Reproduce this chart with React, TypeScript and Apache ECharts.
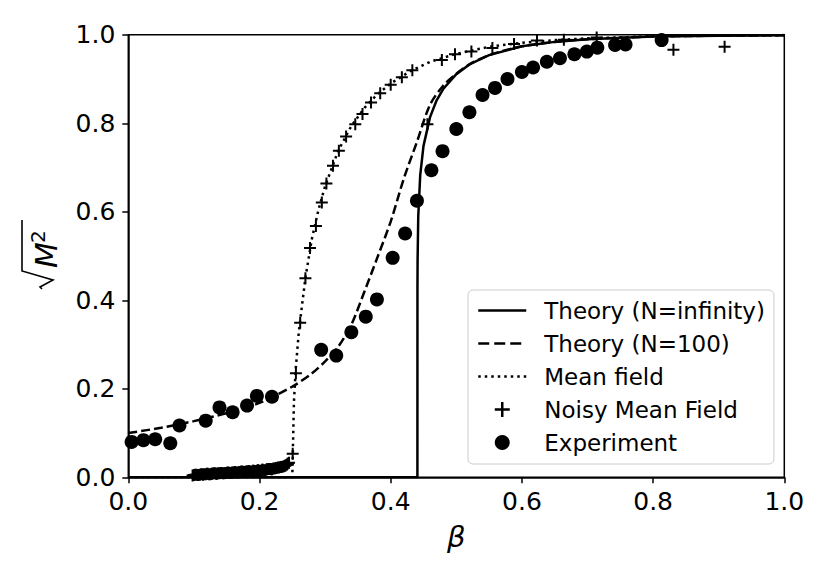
import React, { useEffect, useRef } from "react";
import * as echarts from "echarts";

const theoryInf: [number, number][] = [
  [0, 0], [0.1, 0], [0.2, 0], [0.3, 0], [0.4, 0], [0.4407, 0],
  [0.4408, 0.428], [0.441, 0.491], [0.442, 0.59], [0.445, 0.683], [0.45, 0.749],
  [0.46, 0.814], [0.47, 0.852], [0.48, 0.8775], [0.5, 0.911], [0.52, 0.933],
  [0.55, 0.954], [0.6, 0.974], [0.65, 0.984], [0.7, 0.99], [0.8, 0.996],
  [0.9, 0.998], [1.0, 0.999],
];

const theory100: [number, number][] = [
  [0, 0.1], [0.05, 0.112], [0.1, 0.127], [0.15, 0.145], [0.2, 0.168],
  [0.25, 0.205], [0.28, 0.235], [0.3, 0.262], [0.32, 0.295], [0.34, 0.345],
  [0.36, 0.42], [0.38, 0.498], [0.4, 0.578], [0.42, 0.675], [0.44, 0.758],
  [0.46, 0.842], [0.48, 0.885], [0.5, 0.912], [0.52, 0.933], [0.55, 0.954],
  [0.6, 0.974], [0.65, 0.984], [0.7, 0.99], [0.8, 0.996], [0.9, 0.998], [1.0, 0.999],
];

const meanField: [number, number][] = [
  [0, 0], [0.1, 0], [0.2, 0], [0.25, 0], [0.2525, 0.171], [0.255, 0.24],
  [0.26, 0.33], [0.27, 0.451], [0.28, 0.54], [0.29, 0.605], [0.3, 0.658],
  [0.32, 0.738], [0.34, 0.794], [0.36, 0.835], [0.38, 0.866], [0.4, 0.89],
  [0.43, 0.918], [0.46, 0.939], [0.5, 0.957], [0.55, 0.973], [0.6, 0.982],
  [0.65, 0.988], [0.7, 0.992], [0.8, 0.9966], [0.9, 0.9985], [1.0, 0.9993],
];

const noisyMeanField: [number, number][] = [
  [0.098, 0.004], [0.1, 0.005], [0.102, 0.006], [0.104, 0.006], [0.106, 0.005],
  [0.107, 0.005], [0.109, 0.006], [0.111, 0.007], [0.113, 0.007], [0.114, 0.006],
  [0.116, 0.007], [0.118, 0.007], [0.12, 0.008], [0.121, 0.008], [0.123, 0.007],
  [0.125, 0.007], [0.127, 0.008], [0.128, 0.008], [0.13, 0.009], [0.132, 0.009],
  [0.134, 0.008], [0.135, 0.008], [0.137, 0.009], [0.139, 0.009], [0.141, 0.01],
  [0.142, 0.01], [0.144, 0.009], [0.146, 0.009], [0.148, 0.01], [0.149, 0.01],
  [0.151, 0.011], [0.153, 0.011], [0.155, 0.01], [0.156, 0.01], [0.158, 0.011],
  [0.16, 0.011], [0.162, 0.012], [0.163, 0.012], [0.165, 0.011], [0.167, 0.011],
  [0.169, 0.012], [0.17, 0.012], [0.172, 0.013], [0.174, 0.013], [0.176, 0.012],
  [0.177, 0.012], [0.179, 0.013], [0.181, 0.013], [0.183, 0.014], [0.184, 0.014],
  [0.186, 0.013], [0.188, 0.013], [0.19, 0.015], [0.191, 0.015], [0.193, 0.014],
  [0.195, 0.014], [0.197, 0.016], [0.198, 0.016], [0.2, 0.015], [0.202, 0.015],
  [0.204, 0.017], [0.205, 0.017], [0.207, 0.016], [0.209, 0.016], [0.211, 0.018],
  [0.212, 0.018], [0.214, 0.019], [0.216, 0.019], [0.218, 0.018], [0.219, 0.018],
  [0.221, 0.02], [0.223, 0.02], [0.225, 0.021], [0.226, 0.021], [0.228, 0.022],
  [0.23, 0.022], [0.232, 0.023], [0.233, 0.023], [0.235, 0.024], [0.237, 0.025],
  [0.239, 0.026], [0.24, 0.027], [0.242, 0.029], [0.243, 0.031], [0.245, 0.033],
  [0.2506, 0.053],
  [0.2555, 0.235], [0.262, 0.349], [0.27, 0.45], [0.277, 0.518], [0.286, 0.568],
  [0.295, 0.621], [0.302, 0.664], [0.312, 0.704], [0.321, 0.738], [0.332, 0.77],
  [0.346, 0.798], [0.357, 0.821], [0.37, 0.847], [0.384, 0.868], [0.4, 0.887],
  [0.417, 0.904], [0.433, 0.92], [0.456, 0.798], [0.478, 0.943], [0.498, 0.956],
  [0.523, 0.962], [0.555, 0.97], [0.588, 0.979], [0.623, 0.987], [0.664, 0.989],
  [0.714, 0.994], [0.831, 0.966], [0.909, 0.973],
];

const experiment: [number, number][] = [
  [0.005, 0.08], [0.023, 0.084], [0.041, 0.086], [0.064, 0.077], [0.078, 0.117],
  [0.118, 0.128], [0.139, 0.158], [0.159, 0.147], [0.181, 0.162], [0.196, 0.184],
  [0.219, 0.182], [0.294, 0.288], [0.317, 0.275], [0.34, 0.328], [0.362, 0.363],
  [0.379, 0.402], [0.403, 0.496], [0.422, 0.551], [0.44, 0.625], [0.462, 0.694],
  [0.479, 0.737], [0.5, 0.787], [0.52, 0.825], [0.54, 0.864], [0.559, 0.88],
  [0.578, 0.9], [0.6, 0.916], [0.617, 0.926], [0.638, 0.939], [0.658, 0.947],
  [0.68, 0.956], [0.699, 0.962], [0.715, 0.971], [0.742, 0.977], [0.758, 0.978],
  [0.813, 0.988],
];

const seriesNames = [
  "Theory (N=infinity)",
  "Theory (N=100)",
  "Mean field",
  "Noisy Mean Field",
  "Experiment",
];

const PLUS =
  "path://M5,0 L7,0 L7,5 L12,5 L12,7 L7,7 L7,12 L5,12 L5,7 L0,7 L0,5 L5,5 Z";
const FONT = "DejaVu Sans";

export default function App() {
  const ref = useRef<HTMLDivElement>(null);
  useEffect(() => {
    document.body.style.margin = "0";
    const chart = echarts.init(ref.current!, undefined, { renderer: "svg" });
    const axisCommon = {
      type: "value" as const,
      min: 0,
      max: 1,
      interval: 0.2,
      splitLine: { show: false },
      axisLine: { show: true, lineStyle: { color: "#000", width: 1.5 } },
      axisTick: { show: true, inside: false, length: 6, lineStyle: { color: "#000", width: 1.5 } },
      axisLabel: {
        color: "#000",
        fontSize: 25,
        fontFamily: FONT,
        formatter: (v: number) => v.toFixed(1),
      },
    };
    const hiddenSymbol = { opacity: 0 };
    chart.setOption({
      animation: false,
      backgroundColor: "#fff",
      grid: {
        left: 128.3,
        right: 45.7,
        top: 34.8,
        bottom: 103.7,
        show: true,
        borderColor: "#000",
        borderWidth: 1.5,
        backgroundColor: "transparent",
      },
      xAxis: {
        ...axisCommon,
        axisLabel: { ...axisCommon.axisLabel, margin: 12 },
        name: "β",
        nameLocation: "middle",
        nameGap: 45,
        nameTextStyle: { fontSize: 29, fontStyle: "italic", fontFamily: FONT, color: "#000" },
      },
      yAxis: {
        ...axisCommon,
        axisLabel: { ...axisCommon.axisLabel, margin: 13 },
      },
      legend: {
        data: [
          { name: seriesNames[0], itemStyle: hiddenSymbol, lineStyle: { width: 2.5 } },
          { name: seriesNames[1], itemStyle: hiddenSymbol, lineStyle: { width: 2.5, type: [11, 5] } },
          { name: seriesNames[2], itemStyle: hiddenSymbol, lineStyle: { width: 2.5 } },
          { name: seriesNames[3] },
          { name: seriesNames[4] },
        ],
        orient: "vertical",
        left: 468,
        top: 290,
        align: "left",
        itemWidth: 48,
        itemHeight: 15,
        itemGap: 10,
        padding: [9, 9, 10, 9],
        borderColor: "#cccccc",
        borderWidth: 1,
        borderRadius: 5,
        backgroundColor: "rgba(255,255,255,0.8)",
        lineStyle: { width: 2.5 },
        textStyle: {
          fontSize: 23,
          fontFamily: FONT,
          color: "#000",
          lineHeight: 23,
          padding: [0, 0, 0, 13],
        },
      },
      graphic: [
        {
          type: "group",
          x: 38,
          y: 257,
          rotation: Math.PI / 2,
          children: [
            {
              type: "polyline",
              shape: { points: [[-32, 4], [-30, 2], [-23, 15], [-14, -16], [37, -16]] },
              style: { stroke: "#000", lineWidth: 1.6, fill: "none" },
            },
            {
              type: "text",
              style: {
                text: "M",
                x: -11,
                y: 8.5,
                font: `italic 30px "${FONT}"`,
                fill: "#000",
                align: "left",
                verticalAlign: "middle",
              },
            },
            {
              type: "text",
              style: {
                text: "2",
                x: 14,
                y: 0,
                font: `20px "${FONT}"`,
                fill: "#000",
                align: "left",
                verticalAlign: "middle",
              },
            },
          ],
        },
      ],
      series: [
        {
          name: seriesNames[0],
          type: "line",
          data: theoryInf,
          showSymbol: false,
          symbol: "none",
          lineStyle: { color: "#000", width: 2.5 },
          itemStyle: { color: "#000" },
          z: 2,
        },
        {
          name: seriesNames[1],
          type: "line",
          data: theory100,
          showSymbol: false,
          symbol: "none",
          smooth: 0.3,
          lineStyle: { color: "#000", width: 2.5, type: [9, 4] },
          itemStyle: { color: "#000" },
          z: 2,
        },
        {
          name: seriesNames[2],
          type: "line",
          data: meanField,
          showSymbol: false,
          symbol: "none",
          lineStyle: { color: "#000", width: 2.5, type: [2.5, 4] },
          itemStyle: { color: "#000" },
          z: 2,
        },
        {
          name: seriesNames[3],
          type: "scatter",
          data: noisyMeanField,
          symbol: PLUS,
          symbolSize: 12,
          itemStyle: { color: "#000", opacity: 1 },
          z: 3,
        },
        {
          name: seriesNames[4],
          type: "scatter",
          data: experiment,
          symbol: "circle",
          symbolSize: 14,
          itemStyle: { color: "#000", opacity: 1 },
          z: 4,
        },
      ],
    });
    return () => chart.dispose();
  }, []);
  return <div ref={ref} style={{ width: 830, height: 581 }} />;
}
